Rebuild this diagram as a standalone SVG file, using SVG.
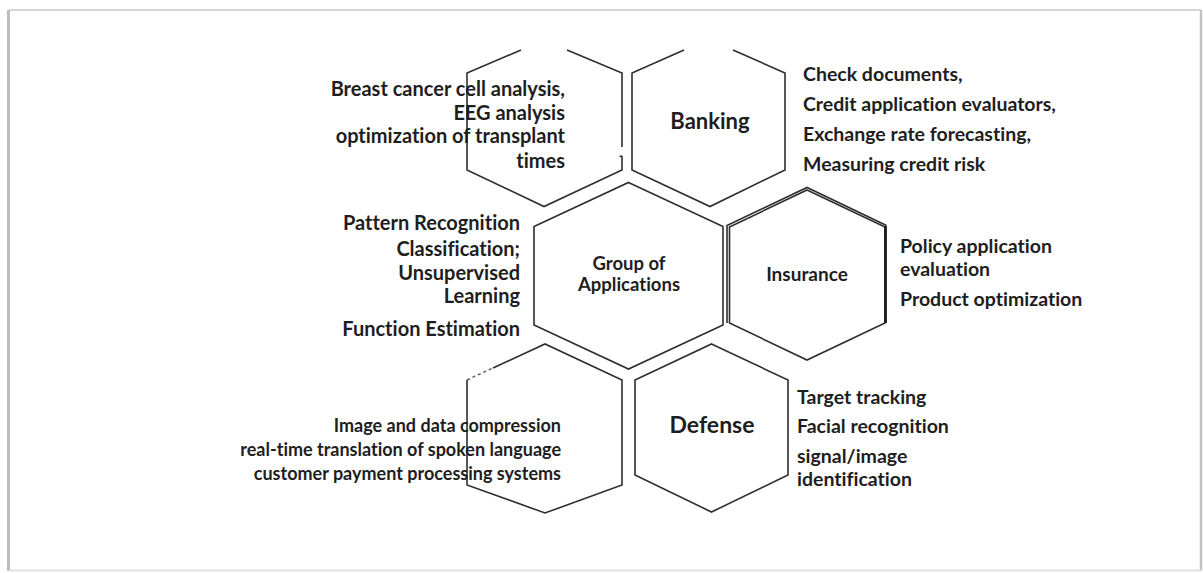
<svg xmlns="http://www.w3.org/2000/svg" width="1203" height="573" viewBox="0 0 1203 573">
  <style>
    .hex { fill: none; stroke: #2e2e2e; stroke-width: 1.6; stroke-linejoin: miter; }
    .txt { font-family: Lato, "Liberation Sans", sans-serif; font-weight: bold; fill: #1e1e1e; font-variant-ligatures: none; }
    .end { text-anchor: end; }
    .mid { text-anchor: middle; }
  </style>

  <!-- page background and soft frame -->
  <rect x="0" y="0" width="1203" height="573" fill="#ffffff"/>
  <g id="frame" fill="none">
    <line x1="9" y1="10" x2="1201" y2="10" stroke="#d6d6d6" stroke-width="2"/>
    <line x1="8.5" y1="10" x2="8.5" y2="571" stroke="#bdbdbd" stroke-width="3"/>
    <line x1="1201" y1="10" x2="1201" y2="571" stroke="#c4c4c4" stroke-width="2.5"/>
    <line x1="9" y1="570.5" x2="1201" y2="570.5" stroke="#e2e2e2" stroke-width="2"/>
  </g>

  <!-- upper left: medicine (top cut at y=50) -->
  <g id="hex-medicine">
    <polyline class="hex" points="521,50 467,73 467,170 544,206.5 622,170 622,156"/>
    <polyline class="hex" points="619.5,156.5 622,156"/>
    <polyline class="hex" points="567,50 622,73 622,147"/>
  </g>

  <!-- upper right: banking -->
  <g id="hex-banking">
    <polyline class="hex" points="684,50 632,73 632,170 710,206.5 785,170 785,73 733,50"/>
    <text class="txt mid" x="710" y="129" font-size="22">Banking</text>
  </g>

  <!-- centre: group of applications -->
  <g id="hex-center">
    <polygon class="hex" points="628.5,182.5 723,226.5 723,325 628.5,369 534,325 534,226.5"/>
    <text class="txt mid" x="629" y="270" font-size="18.5">Group of</text>
    <text class="txt mid" x="629" y="291" font-size="18.5">Applications</text>
  </g>

  <!-- right: insurance (doubled upper edges, heavier right side) -->
  <g id="hex-insurance">
    <polygon class="hex" points="807,190 885,227 885,323 807,360 729.5,323 729.5,227"/>
    <polyline class="hex" stroke-width="1.3" points="727,323 727,225.5 807,187.5 886.5,225.5"/>
    <line x1="885.5" y1="226" x2="885.5" y2="323" stroke="#1c1c1c" stroke-width="2.8"/>
    <text class="txt mid" x="807" y="281" font-size="19" fill="#2c2c2c">Insurance</text>
  </g>

  <!-- lower left: other applications -->
  <g id="hex-other">
    <polyline class="hex" points="493,368 545,344 622,380 622,485 545,513 467,485 467,380"/>
    <line x1="467" y1="380" x2="493" y2="368" stroke="#555" stroke-width="1.4" stroke-dasharray="3 3"/>
  </g>

  <!-- lower right: defense -->
  <g id="hex-defense">
    <polygon class="hex" points="711.5,344 788,380 788,475 711.5,512 635,475 635,380"/>
    <text class="txt mid" x="712" y="433" font-size="23">Defense</text>
  </g>

  <!-- descriptions beside the hexagons -->
  <g id="list-medicine" class="txt end" font-size="20">
    <text x="565" y="96">Breast cancer  cell analysis,</text>
    <text x="565" y="120">EEG analysis</text>
    <text x="565" y="143">optimization of transplant</text>
    <text x="565" y="168">times</text>
  </g>

  <g id="list-banking" class="txt" font-size="19.5">
    <text x="803" y="81">Check documents,</text>
    <text x="803" y="111">Credit application evaluators,</text>
    <text x="803" y="141">Exchange rate forecasting,</text>
    <text x="803" y="171">Measuring credit risk</text>
  </g>

  <g id="list-center" class="txt end" font-size="20">
    <text x="520" y="230">Pattern Recognition</text>
    <text x="520" y="256">Classification;</text>
    <text x="520" y="279.5">Unsupervised</text>
    <text x="520" y="302.5">Learning</text>
    <text x="520" y="336">Function Estimation</text>
  </g>

  <g id="list-insurance" class="txt" font-size="19.5">
    <text x="900" y="253">Policy application</text>
    <text x="900" y="276">evaluation</text>
    <text x="900" y="306">Product optimization</text>
  </g>

  <g id="list-other" class="txt end" font-size="18">
    <text x="561" y="432">Image and data compression</text>
    <text x="561" y="456">real-time translation of spoken language</text>
    <text x="561" y="480">customer payment processing systems</text>
  </g>

  <g id="list-defense" class="txt" font-size="19.5">
    <text x="797" y="404">Target tracking</text>
    <text x="797" y="433">Facial recognition</text>
    <text x="797" y="463">signal/image</text>
    <text x="797" y="486">identification</text>
  </g>
</svg>
